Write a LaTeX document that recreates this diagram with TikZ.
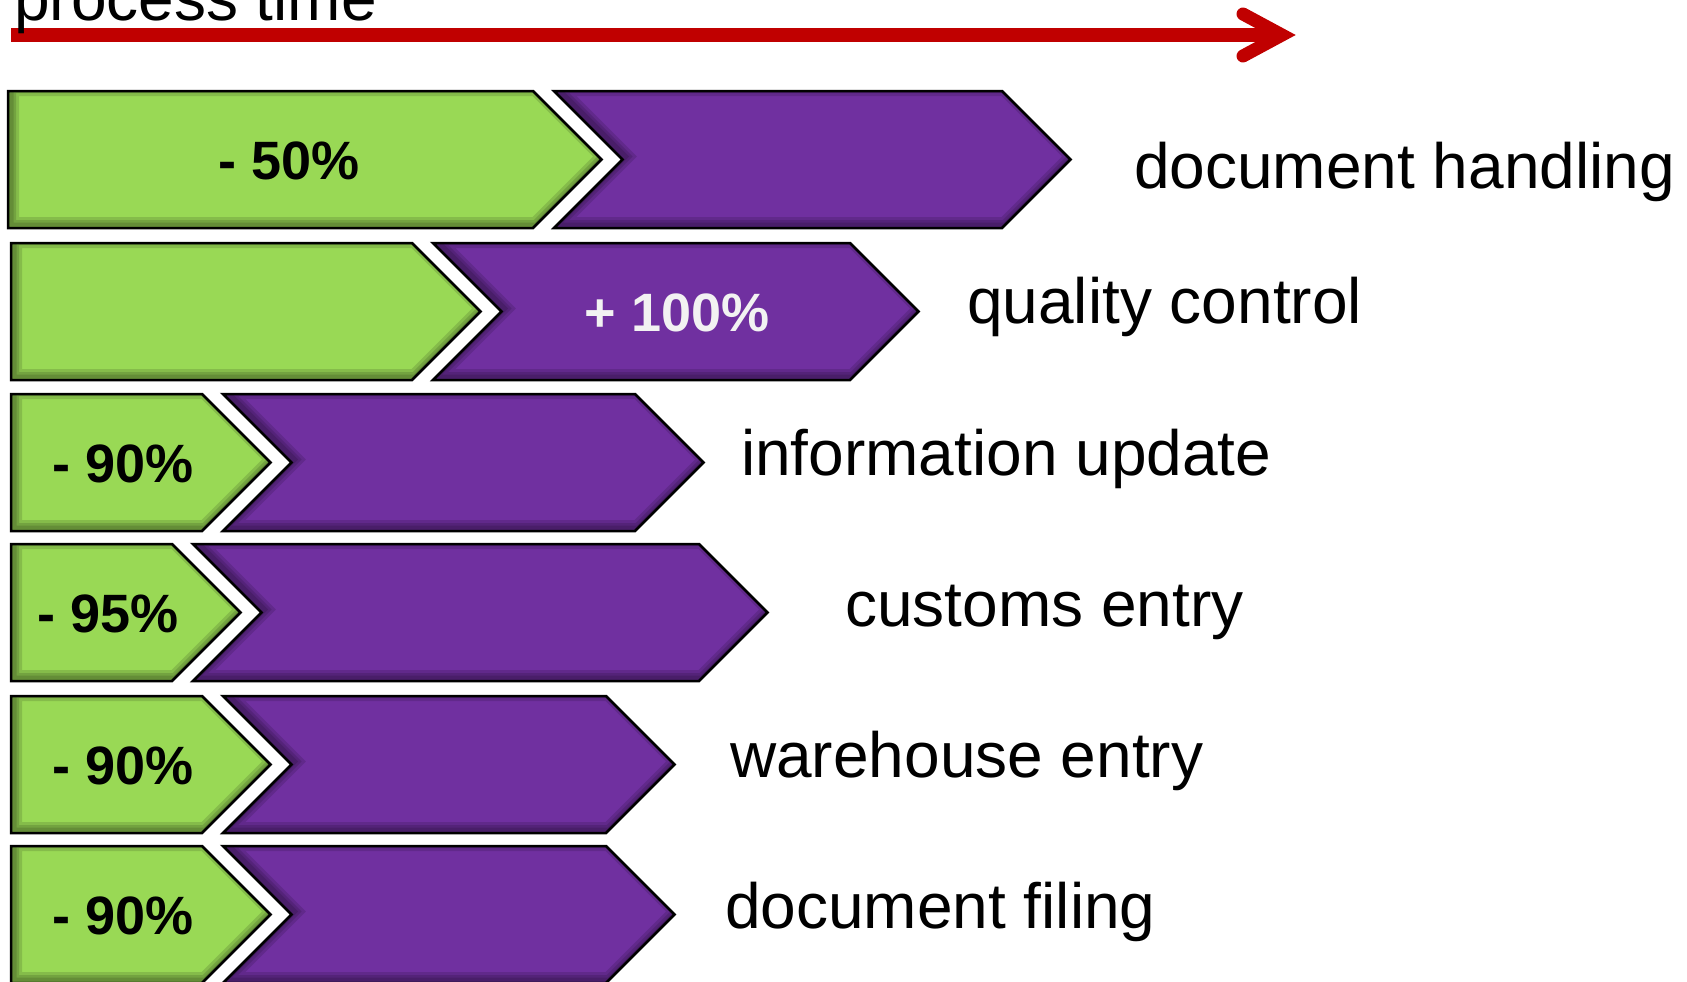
\documentclass[tikz,border=0pt]{standalone}
\usepackage{fontspec}
\setmainfont{Liberation Sans}
\definecolor{gainfill}{HTML}{99D955}
\definecolor{waitfill}{HTML}{7030A0}
\definecolor{timered}{HTML}{C00000}
\definecolor{pctwhite}{HTML}{F2F2F2}

\begin{document}
\begin{tikzpicture}[x=1pt,y=-1pt,
  outline/.style={draw=black,line width=2.5pt,line join=miter},
  inshade/.style={draw=black,opacity=.13,shift={(3,-3)}},
  pct/.style={font=\fontsize{54}{54}\selectfont\bfseries,inner sep=0pt,anchor=base},
  lab/.style={font=\fontsize{64}{64}\selectfont,inner sep=0pt,anchor=base west}]
\clip (0,0) rectangle (1687,982);
\fill[white] (0,0) rectangle (1687,982);

% time axis
\coordinate (t0) at (11,35);
\coordinate (tv) at (1282,35);
\coordinate (h1) at (1243,14);
\coordinate (h2) at (1243,56);
\draw[timered,line width=14pt] (t0) -- (tv);
\draw[timered,line width=13pt,line cap=round,line join=miter] (h1) -- (tv) -- (h2);
\node[lab] (ptime) at (14,21) {process time};

% one row: green part, purple part, numbers, name
\foreach \n/\xl/\yt/\xg/\xp/\txt/\xt/\tc/\lbl/\xn/\yn in {
  1/8/91/533/1002/{- 50\%}/289/black/{document handling}/1134/188,
  2/11/243/412/850/{+ 100\%}/677/pctwhite/{quality control}/967/323,
  3/11/394/202/635/{- 90\%}/123/black/{information update}/741/475,
  4/11/544/172/699/{- 95\%}/108/black/{customs entry}/845/626,
  5/11/696/202/606/{- 90\%}/123/black/{warehouse entry}/730/777,
  6/11/846/202/606/{- 90\%}/123/black/{document filing}/725/928}{
  \pgfmathsetmacro\ym{\yt+68.5}
  \pgfmathsetmacro\yb{\yt+137}
  \pgfmathsetmacro\xgt{\xg+68.5}
  \pgfmathsetmacro\xs{\xg+21}
  \pgfmathsetmacro\xsn{\xg+89.5}
  \pgfmathsetmacro\xpt{\xp+68.5}
  \pgfmathsetmacro\yp{\ym+19.5}
  \def\gpath{(\xl,\yt) -- (\xg,\yt) -- (\xgt,\ym) -- (\xg,\yb) -- (\xl,\yb) -- cycle}
  \def\ppath{(\xs,\yt) -- (\xp,\yt) -- (\xpt,\ym) -- (\xp,\yb) -- (\xs,\yb) -- (\xsn,\ym) -- cycle}
  \begin{scope}
    \clip \gpath;
    \fill[gainfill] \gpath;
    \foreach \w in {16,10,5} \draw[inshade,line width=\w pt] \gpath;
  \end{scope}
  \draw[outline] \gpath;
  \begin{scope}
    \clip \ppath;
    \fill[waitfill] \ppath;
    \foreach \w in {16,10,5} \draw[inshade,line width=\w pt] \ppath;
  \end{scope}
  \draw[outline] \ppath;
  \node[pct,text=\tc] (pc\n) at (\xt,\yp) {\txt};
  \node[lab] (lab\n) at (\xn,\yn) {\lbl};
}
\end{tikzpicture}
\end{document}
